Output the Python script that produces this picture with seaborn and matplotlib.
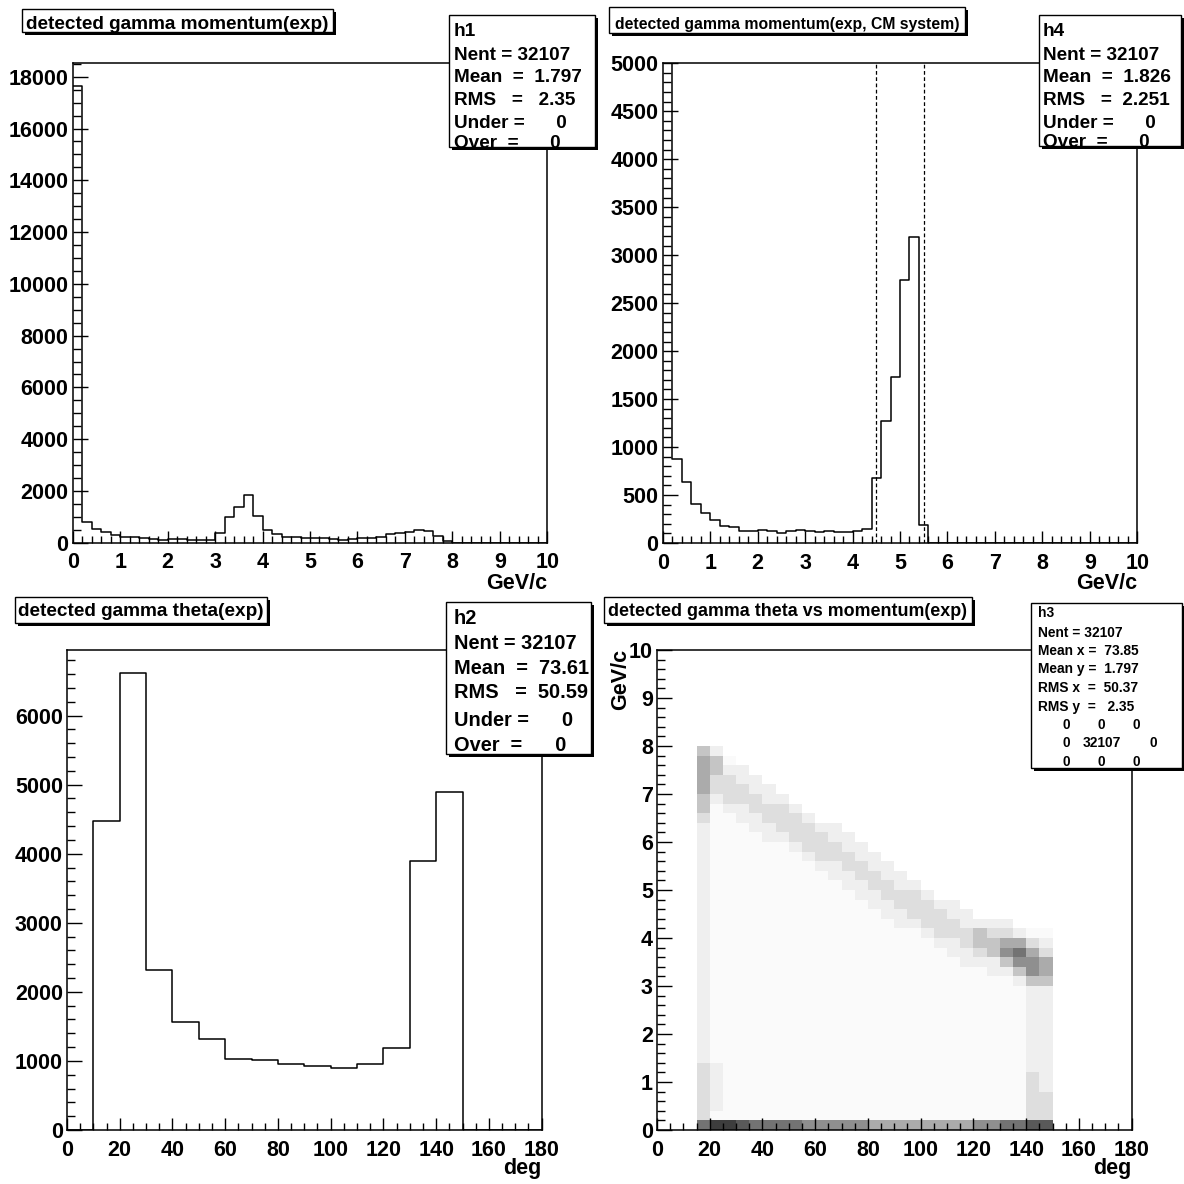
import numpy as np
import matplotlib
matplotlib.use("Agg")
import matplotlib.pyplot as plt
from matplotlib.patches import Rectangle
from matplotlib.ticker import MultipleLocator, FormatStrFormatter
from matplotlib.colors import LinearSegmentedColormap
import seaborn as sns

# ------------------------------------------------------------------ data
# h1: detected gamma momentum (exp), 50 bins on [0, 10] GeV/c
h1_range = (0.0, 10.0)
h1_counts = [17640, 793, 546, 429, 312, 221, 208, 169, 130, 117,
             130, 130, 91, 91, 91, 364, 975, 1378, 1846, 1014,
             481, 351, 234, 208, 169, 169, 169, 156, 117, 156,
             169, 169, 208, 338, 377, 403, 481, 455, 273, 52,
             0, 0, 0, 0, 0, 0, 0, 0, 0, 0]

# h4: detected gamma momentum (exp, CM system), 50 bins on [0, 10] GeV/c
h4_range = (0.0, 10.0)
h4_counts = [17710, 880, 640, 410, 316, 243, 177, 167, 129, 125,
             139, 129, 104, 129, 136, 122, 115, 125, 118, 115,
             125, 143, 681, 1269, 1735, 2743, 3188, 191, 0, 0,
             0, 0, 0, 0, 0, 0, 0, 0, 0, 0,
             0, 0, 0, 0, 0, 0, 0, 0, 0, 0]
h4_cuts = [4.5, 5.5]

# h2: detected gamma theta (exp), 18 bins on [0, 180] deg
h2_range = (0.0, 180.0)
h2_counts = [0, 4468, 6610, 2315, 1565, 1322, 1025, 1020, 950,
             928, 901, 955, 1187, 3896, 4900, 0, 0, 0]

# h3: theta vs momentum, density level (0-9) per cell,
# theta cells of 5 deg on [15, 150], momentum cells of 0.2 on [0, 8]
# rows listed from top (7.8-8.0 GeV/c) to bottom (0-0.2 GeV/c)
h3_x_range = (15.0, 150.0)
h3_y_range = (0.0, 8.0)
h3_density_rows = [
    "42000 00000 00000 00000 00000 00",
    "54100 00000 00000 00000 00000 00",
    "54220 00000 00000 00000 00000 00",
    "53322 00000 00000 00000 00000 00",
    "53332 20000 00000 00000 00000 00",
    "42333 22000 00000 00000 00000 00",
    "41223 33200 00000 00000 00000 00",
    "31122 33320 00000 00000 00000 00",
    "21112 23332 20000 00000 00000 00",
    "21111 22333 22000 00000 00000 00",
    "21111 11233 32200 00000 00000 00",
    "21111 11123 33220 00000 00000 00",
    "21111 11112 23322 00000 00000 00",
    "21111 11111 22332 20000 00000 00",
    "21111 11111 12233 22000 00000 00",
    "21111 11111 11223 33200 00000 00",
    "21111 11111 11122 33322 00000 00",
    "21111 11111 11112 23332 20000 00",
    "21111 11111 11111 22333 22220 00",
    "21111 11111 11111 11233 34332 11",
    "21111 11111 11111 11122 34455 32",
    "21111 11111 11111 11112 23467 53",
    "21111 11111 11111 11111 22246 65",
    "21111 11111 11111 11111 11224 65",
    "21111 11111 11111 11111 11112 44",
    "21111 11111 11111 11111 11111 22",
    "21111 11111 11111 11111 11111 22",
    "21111 11111 11111 11111 11111 22",
    "21111 11111 11111 11111 11111 22",
    "21111 11111 11111 11111 11111 22",
    "21111 11111 11111 11111 11111 22",
    "21111 11111 11111 11111 11111 22",
    "21111 11111 11111 11111 11111 22",
    "32111 11111 11111 11111 11111 22",
    "32111 11111 11111 11111 11111 32",
    "32111 11111 11111 11111 11111 32",
    "32111 11111 11111 11111 11111 33",
    "32111 11111 11111 11111 11111 33",
    "31111 11111 11111 11111 11111 33",
    "79987 77766 66655 55555 56677 88",
]
h3_overflow = [[0, 0, 0], [0, 32107, 0], [0, 0, 0]]

titles = ["detected gamma momentum(exp)",
          "detected gamma momentum(exp, CM system)",
          "detected gamma theta(exp)",
          "detected gamma theta vs momentum(exp)"]

stats_h1 = ["h1", "Nent = 32107", "Mean  =  1.797", "RMS   =   2.35",
            "Under =      0", "Over  =      0"]
stats_h4 = ["h4", "Nent = 32107", "Mean  =  1.826", "RMS   =  2.251",
            "Under =      0", "Over  =      0"]
stats_h2 = ["h2", "Nent = 32107", "Mean  =  73.61", "RMS   =  50.59",
            "Under =      0", "Over  =      0"]
stats_h3 = ["h3", "Nent = 32107", "Mean x =  73.85", "Mean y =  1.797",
            "RMS x  =  50.37", "RMS y  =   2.35"]

# ------------------------------------------------------------------ style
plt.rcParams["font.family"] = ["Liberation Sans", "DejaVu Sans"]
plt.rcParams["font.weight"] = "bold"
plt.rcParams["axes.linewidth"] = 1.1

S = 1184.0
fig = plt.figure(figsize=(11.84, 11.84), dpi=100)
fig.patch.set_facecolor("white")


def rect(x0, y0, x1, y1):
    return [x0 / S, 1 - y1 / S, (x1 - x0) / S, (y1 - y0) / S]


def ftext(x, y, s, size, ha="left", va="baseline", **kw):
    fig.text(x / S, 1 - y / S, s, fontsize=size, ha=ha, va=va,
             fontweight="bold", color="black", zorder=8, **kw)


def pbox(x0, y0, x1, y1, sh=3):
    fig.add_artist(Rectangle((x0 / S + sh / S, 1 - (y1 + sh) / S),
                             (x1 - x0) / S, (y1 - y0) / S,
                             transform=fig.transFigure, facecolor="black",
                             edgecolor="none", zorder=5))
    fig.add_artist(Rectangle((x0 / S, 1 - y1 / S), (x1 - x0) / S, (y1 - y0) / S,
                             transform=fig.transFigure, facecolor="white",
                             edgecolor="black", lw=1.0, zorder=6))


def style_axes(ax, xlim, ylim, xmaj, xmin, ymaj, ymin):
    ax.set_xlim(*xlim)
    ax.set_ylim(*ylim)
    ax.xaxis.set_major_locator(MultipleLocator(xmaj))
    ax.xaxis.set_minor_locator(MultipleLocator(xmin))
    ax.yaxis.set_major_locator(MultipleLocator(ymaj))
    ax.yaxis.set_minor_locator(MultipleLocator(ymin))
    ax.xaxis.set_major_formatter(FormatStrFormatter("%g"))
    ax.yaxis.set_major_formatter(FormatStrFormatter("%g"))
    ax.tick_params(which="both", direction="in", top=False, right=False,
                   width=1.0, colors="black", labelsize=15.5)
    ax.tick_params(axis="x", which="major", length=9, pad=7)
    ax.tick_params(axis="x", which="minor", length=4.8)
    ax.tick_params(axis="y", which="major", length=11, pad=3)
    ax.tick_params(axis="y", which="minor", length=5.6)
    ax.set_xlabel("")
    ax.set_ylabel("")
    ax.set_facecolor("white")
    for sp in ax.spines.values():
        sp.set_color("black")
        sp.set_linewidth(1.1)


def step_hist(ax, counts, rng):
    n = len(counts)
    edges = np.linspace(rng[0], rng[1], n + 1)
    centers = 0.5 * (edges[:-1] + edges[1:])
    sns.histplot(x=list(centers), weights=list(counts), bins=list(edges),
                 element="step", fill=False, color="black", linewidth=1.1,
                 ax=ax)


# ------------------------------------------------------------------ h1
ax1 = fig.add_axes(rect(72.7, 63.3, 547.3, 542.7))
step_hist(ax1, h1_counts, h1_range)
style_axes(ax1, (0, 10), (0, 18520), 1, 0.2, 2000, 500)

# ------------------------------------------------------------------ h4
ax4 = fig.add_axes(rect(662.7, 63.3, 1137.3, 543.0))
step_hist(ax4, h4_counts, h4_range)
for c in h4_cuts:
    ax4.axvline(c, color="black", lw=0.9, ls=(0, (3, 2)))
style_axes(ax4, (0, 10), (0, 5000), 1, 0.2, 500, 100)

# ------------------------------------------------------------------ h2
ax2 = fig.add_axes(rect(67.0, 650.0, 541.6, 1130.0))
step_hist(ax2, h2_counts, h2_range)
style_axes(ax2, (0, 180), (0, 6950), 20, 5, 1000, 200)

# ------------------------------------------------------------------ h3
ax3 = fig.add_axes(rect(657.0, 650.0, 1131.6, 1130.0))
rows = [r.replace(" ", "").ljust(27, "0")[:27] for r in h3_density_rows]
ny, nx = len(rows), len(rows[0])
xedges = np.linspace(h3_x_range[0], h3_x_range[1], nx + 1)
yedges = np.linspace(h3_y_range[0], h3_y_range[1], ny + 1)
level_gray = [0.0, 0.02, 0.065, 0.13, 0.23, 0.33, 0.44, 0.55, 0.65, 0.76]
xs, ys, ws = [], [], []
for r, row in enumerate(rows):
    for c, ch in enumerate(row):
        lv = int(ch)
        if lv > 0:
            xs.append(0.5 * (xedges[c] + xedges[c + 1]))
            ys.append(0.5 * (yedges[ny - r - 1] + yedges[ny - r]))
            ws.append(level_gray[lv])
gray_cmap = LinearSegmentedColormap.from_list("rootgray", ["white", "black"])
sns.histplot(x=xs, y=ys, weights=ws, bins=[list(xedges), list(yedges)],
             cmap=gray_cmap, vmin=0, vmax=1, ax=ax3)
style_axes(ax3, (0, 180), (0, 10), 20, 5, 1, 0.2)

# ------------------------------------------------------------------ axis titles
ftext(547.3, 573, "GeV/c", 15.5, ha="right", va="top")
ftext(1137.3, 573, "GeV/c", 15.5, ha="right", va="top")
ftext(541.6, 1158, "deg", 15.5, ha="right", va="top")
ftext(1131.6, 1158, "deg", 15.5, ha="right", va="top")
fig.text(621 / S, 1 - 649 / S, "GeV/c", fontsize=15.5, rotation=90,
         ha="center", va="top", fontweight="bold", zorder=8)

# ------------------------------------------------------------------ title boxes
title_boxes = [(21.7, 9.3, 333.0, 31.7, 13.7, 29.0),
               (609.0, 6.7, 965.0, 33.3, 11.3, 29.0),
               (14.6, 597.0, 267.3, 623.0, 13.7, 616.0),
               (604.0, 597.0, 972.0, 623.0, 12.9, 616.0)]
for t, (x0, y0, x1, y1, fs, yb) in zip(titles, title_boxes):
    pbox(x0, y0, x1, y1)
    ftext(0.5 * (x0 + x1), yb, t, fs, ha="center")

# ------------------------------------------------------------------ stat boxes
pbox(449, 15, 595, 146.7)
for s, yb in zip(stats_h1, [36.5, 59.5, 82.5, 105, 127.5, 147.5]):
    ftext(454, yb, s, 13.7)

pbox(1039, 15, 1181, 145.5)
for s, yb in zip(stats_h4, [36.5, 59.5, 82.5, 105, 127.5, 147]):
    ftext(1043, yb, s, 13.7)

pbox(445.6, 601.9, 590.5, 753.6)
for s, yb in zip(stats_h2, [624, 649, 674, 698.5, 726, 751]):
    ftext(453.6, yb, s, 14.4)

pbox(1030.7, 602.7, 1181.7, 768.3)
for s, yb in zip(stats_h3, [617.3, 636.7, 655, 673.3, 692, 710.7]):
    ftext(1038.3, yb, s, 9.9)
grid_x = [[1066.7, 1101.7, 1136.7], [1066.7, 1102.3, 1153.3], [1066.7, 1101.7, 1136.7]]
for vals, xpos, yb in zip(h3_overflow, grid_x, [729, 747.3, 765.7]):
    for v, xp in zip(vals, xpos):
        ftext(xp, yb, str(v), 9.9, ha="center")

fig.savefig("out.png", dpi=100, facecolor="white")
